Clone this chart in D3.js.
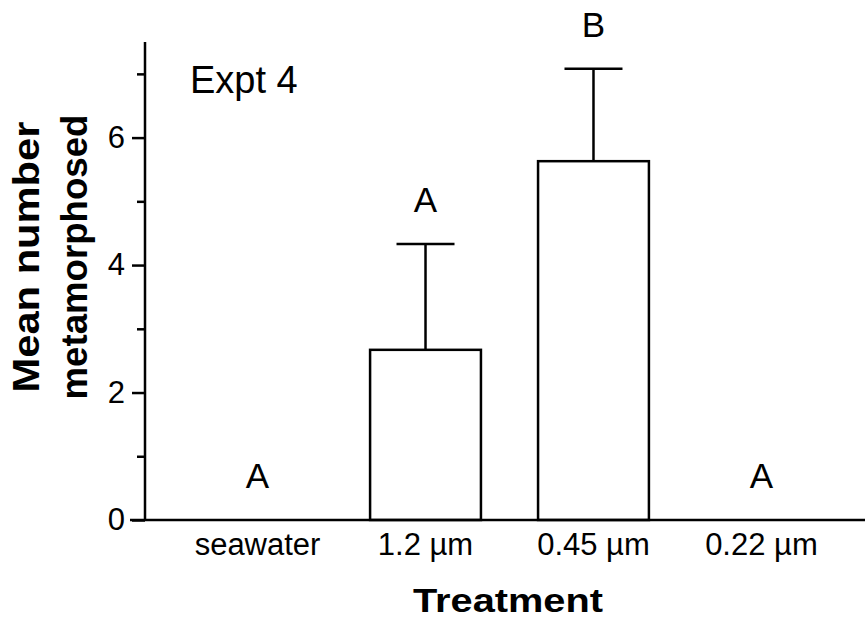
<!DOCTYPE html>
<html>
<head>
<meta charset="utf-8">
<script src="https://cdn.jsdelivr.net/npm/d3@7"></script>
<style>
  body { margin: 0; background: #fff; }
  svg text { font-family: Arial, "Liberation Sans", Helvetica, sans-serif; fill: #000; }
</style>
</head>
<body>
<svg id="chart" width="865" height="620"></svg>
<script>
// values
const treatments = ['seawater', '1.2 \u00b5m', '0.45 \u00b5m', '0.22 \u00b5m'];
const means = [0, 2.67, 5.63, 0];
const errors = [0, 1.66, 1.45, 0];
const groups = ['A', 'A', 'B', 'A'];
const majorTicks = [0, 2, 4, 6];
const minorTicks = [1, 3, 5, 7];

const svg = d3.select('#chart');

const x = d3.scaleBand()
    .domain(treatments)
    .range([145, 874])
    .paddingInner(0.34)
    .paddingOuter(0.34);

const y = d3.scaleLinear()
    .domain([0, 7.5])
    .range([520, 42]);

const data = treatments.map((t, i) => ({ t, mean: means[i], err: errors[i], group: groups[i] }));

// bars
svg.append('g')
    .selectAll('rect')
    .data(data.filter(d => d.mean > 0))
    .join('rect')
    .attr('x', d => x(d.t))
    .attr('y', d => y(d.mean))
    .attr('width', x.bandwidth())
    .attr('height', d => y(0) - y(d.mean))
    .attr('fill', '#fff')
    .attr('stroke', '#000')
    .attr('stroke-width', 2.5);

// error bars (upper only)
const eb = svg.append('g')
    .attr('stroke', '#000')
    .attr('stroke-width', 2.5)
    .selectAll('g')
    .data(data.filter(d => d.err > 0))
    .join('g');

eb.append('line')
    .attr('x1', d => x(d.t) + x.bandwidth() / 2)
    .attr('x2', d => x(d.t) + x.bandwidth() / 2)
    .attr('y1', d => y(d.mean))
    .attr('y2', d => y(d.mean + d.err));

eb.append('line')
    .attr('x1', d => x(d.t) + x.bandwidth() / 2 - 29)
    .attr('x2', d => x(d.t) + x.bandwidth() / 2 + 29)
    .attr('y1', d => y(d.mean + d.err))
    .attr('y2', d => y(d.mean + d.err));

// significance letters
svg.append('g')
    .selectAll('text')
    .data(data)
    .join('text')
    .attr('x', d => x(d.t) + x.bandwidth() / 2)
    .attr('y', d => y(d.mean + d.err + 0.5))
    .attr('text-anchor', 'middle')
    .attr('font-size', 35)
    .text(d => d.group);

// y axis
const yAxis = svg.append('g')
    .attr('transform', 'translate(145,0)')
    .call(d3.axisLeft(y).tickValues(majorTicks).tickSize(13).tickPadding(7).tickFormat(d3.format('d')));
yAxis.select('.domain').attr('d', `M0,${y(0)}V42`).attr('stroke-width', 2.5);
yAxis.selectAll('.tick line').attr('stroke-width', 2.5);
yAxis.selectAll('.tick text').attr('font-size', 31).attr('font-family', 'Arial, "Liberation Sans", sans-serif');

const yMinor = svg.append('g')
    .attr('transform', 'translate(145,0)')
    .call(d3.axisLeft(y).tickValues(minorTicks).tickSize(8).tickFormat(''));
yMinor.select('.domain').remove();
yMinor.selectAll('.tick line').attr('stroke-width', 2.5);

// x axis line
svg.append('line')
    .attr('x1', 130).attr('x2', 865)
    .attr('y1', y(0)).attr('y2', y(0))
    .attr('stroke', '#000')
    .attr('stroke-width', 2.5);

// category labels
svg.append('g')
    .selectAll('text')
    .data(treatments)
    .join('text')
    .attr('x', d => x(d) + x.bandwidth() / 2)
    .attr('y', 555)
    .attr('text-anchor', 'middle')
    .attr('font-size', 31)
    .text(d => d);

// axis titles
svg.append('text')
    .attr('x', 508)
    .attr('y', 612)
    .attr('text-anchor', 'middle')
    .attr('font-size', 34)
    .attr('font-weight', 'bold')
    .attr('textLength', 190)
    .attr('lengthAdjust', 'spacingAndGlyphs')
    .text('Treatment');

svg.append('text')
    .attr('transform', 'translate(39,257) rotate(-90)')
    .attr('text-anchor', 'middle')
    .attr('font-size', 37)
    .attr('font-weight', 'bold')
    .attr('textLength', 271)
    .attr('lengthAdjust', 'spacingAndGlyphs')
    .text('Mean number');

svg.append('text')
    .attr('transform', 'translate(87,257) rotate(-90)')
    .attr('text-anchor', 'middle')
    .attr('font-size', 37)
    .attr('font-weight', 'bold')
    .attr('textLength', 285)
    .attr('lengthAdjust', 'spacingAndGlyphs')
    .text('metamorphosed');

svg.append('text')
    .attr('x', 190)
    .attr('y', 93)
    .attr('font-size', 38)
    .text('Expt 4');
</script>
</body>
</html>
